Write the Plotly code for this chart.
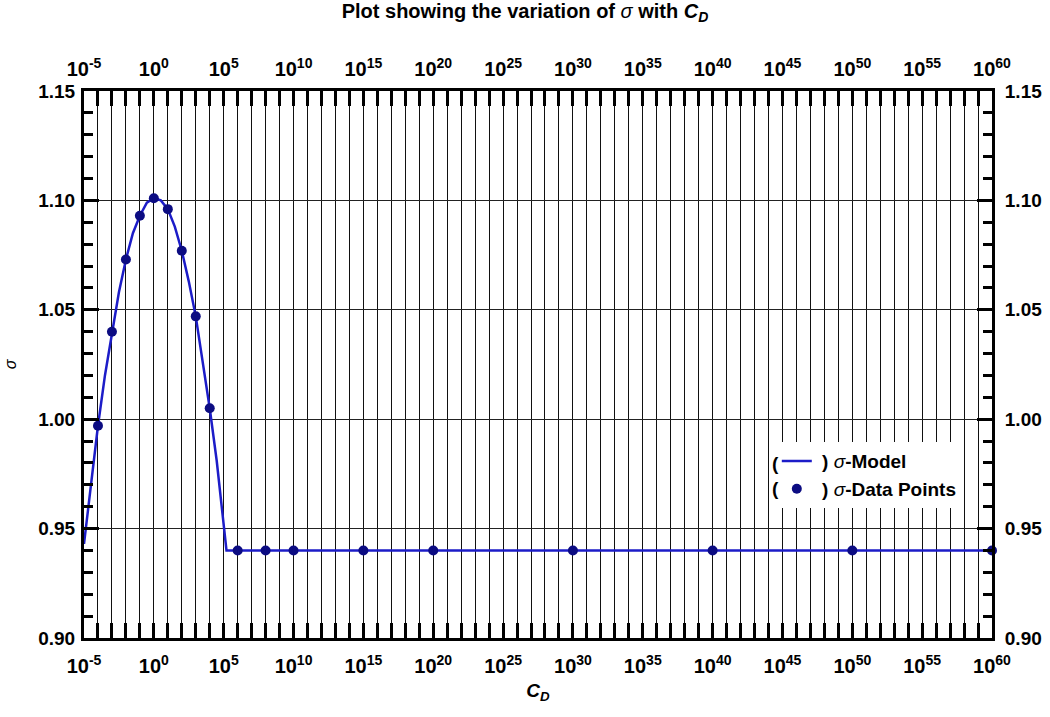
import plotly.graph_objects as go

# Decade exponents of C_D and measured sigma values
data_exp = [-4, -3, -2, -1, 0, 1, 2, 3, 4, 6, 8, 10, 15, 20, 30, 40, 50, 60]
data_sigma = [0.997, 1.040, 1.073, 1.093, 1.101, 1.096, 1.077, 1.047, 1.005,
              0.940, 0.940, 0.940, 0.940, 0.940, 0.940, 0.940, 0.940, 0.940]

# Model curve, sampled along the decades
model_exp = [-5, -4.5, -4, -3.5, -3, -2.5, -2, -1.5, -1, -0.5, 0, 0.5, 1, 1.5,
             2, 2.5, 3, 3.5, 4, 4.5, 5.2, 10, 20, 30, 40, 50, 60]
model_sigma = [0.943, 0.971, 0.997, 1.020, 1.040, 1.058, 1.073, 1.085, 1.093,
               1.099, 1.101, 1.100, 1.096, 1.088, 1.077, 1.063, 1.047, 1.027,
               1.005, 0.981, 0.940, 0.940, 0.940, 0.940, 0.940, 0.940, 0.940]

x_min_exp, x_max_exp = -5, 60
y_min, y_max = 0.90, 1.15

data_x = [10.0 ** e for e in data_exp]
model_x = [10.0 ** e for e in model_exp]

decades = list(range(x_min_exp, x_max_exp + 1))
tick_vals = [10.0 ** k for k in decades]
tick_text = [f"<b>10<sup>{k}</sup></b>" if k % 5 == 0 else "" for k in decades]

FONT = "Liberation Sans, Arial, sans-serif"
LINE_BLUE = "#1c1cc8"
DOT_BLUE = "#0c0c82"

fig = go.Figure()

fig.add_trace(go.Scatter(
    x=model_x, y=model_sigma, mode="lines",
    line=dict(color=LINE_BLUE, width=2.5),
    name="<b> ) </b><i>σ</i><b>-Model</b>",
    cliponaxis=False, hoverinfo="skip",
))
fig.add_trace(go.Scatter(
    x=data_x, y=data_sigma, mode="markers",
    marker=dict(color=DOT_BLUE, size=10),
    name="<b> ) </b><i>σ</i><b>-Data Points</b>",
    cliponaxis=False,
))
# transparent copy so the top/right axes get drawn
fig.add_trace(go.Scatter(
    x=data_x, y=data_sigma, mode="markers", xaxis="x2", yaxis="y2",
    marker=dict(opacity=0), showlegend=False, hoverinfo="skip",
))

x_common = dict(
    type="log", range=[x_min_exp, x_max_exp], automargin=False,
    tickmode="array", tickvals=tick_vals, ticktext=tick_text,
    ticks="inside", ticklen=15, tickwidth=3, tickcolor="black",
    showline=True, linecolor="black", linewidth=3,
    tickfont=dict(family=FONT, size=20, color="black"),
)
y_common = dict(
    range=[y_min, y_max], automargin=False,
    tickmode="linear", tick0=0.9, dtick=0.05, tickformat=".2f",
    ticks="inside", ticklen=15, tickwidth=3, tickcolor="black",
    showline=True, linecolor="black", linewidth=3,
    tickfont=dict(family=FONT, size=19, color="black", weight="bold"),
    minor=dict(dtick=0.01, ticks="inside", ticklen=9, tickwidth=3,
               tickcolor="black", showgrid=False),
)

fig.update_layout(
    width=1050, height=717,
    margin=dict(l=84, r=58, t=91, b=79),
    paper_bgcolor="white", plot_bgcolor="white",
    font=dict(family=FONT, color="black"),
    title=dict(
        text="<b>Plot showing the variation of </b><i>σ</i><b> with <i>C<sub>D</sub></i></b>",
        x=0.5, xanchor="center", y=0.995, yanchor="top",
        font=dict(family=FONT, size=20, color="black"),
    ),
    xaxis=dict(
        **x_common, side="bottom", ticklabelstandoff=8,
        showgrid=True, gridcolor="#111111", gridwidth=1,
        title=dict(text="<b><i>C<sub>D</sub></i></b>",
                   font=dict(family=FONT, size=19), standoff=8),
    ),
    xaxis2=dict(
        **x_common, side="top", overlaying="x", anchor="y2",
        ticklabelstandoff=4, showgrid=False,
    ),
    yaxis=dict(
        **y_common, side="left", ticklabelstandoff=2,
        showgrid=True, gridcolor="#222222", gridwidth=1,
        title=dict(text="<i>σ</i>", font=dict(family=FONT, size=16), standoff=18),
    ),
    yaxis2=dict(
        **y_common, side="right", overlaying="y", anchor="x2",
        ticklabelstandoff=6, showgrid=False,
    ),
    legend=dict(
        x=0.763, y=0.358, xanchor="left", yanchor="top",
        bgcolor="white", borderwidth=0,
        font=dict(family=FONT, size=19, color="black"),
        tracegroupgap=0, itemwidth=30,
    ),
    showlegend=True,
)

# opening brackets in front of the legend symbols
for row_y in (0.319, 0.2734):
    fig.add_annotation(
        text="<b>(</b>", xref="paper", yref="paper", x=0.7555, y=row_y,
        xanchor="left", yanchor="middle", showarrow=False,
        font=dict(family=FONT, size=19, color="black"),
    )

fig.write_html("out.html")
